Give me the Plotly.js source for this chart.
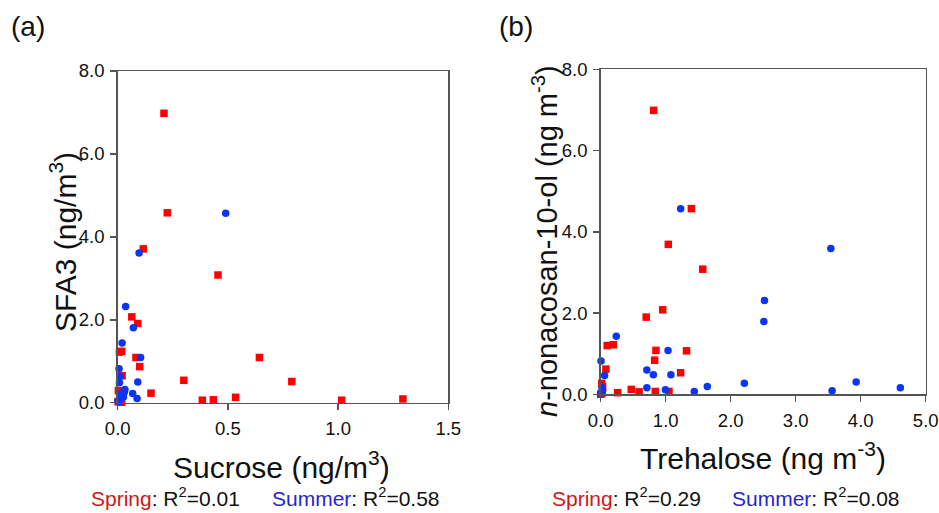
<!DOCTYPE html>
<html>
<head>
<meta charset="utf-8">
<script src="https://cdn.plot.ly/plotly-3.0.1.min.js"></script>
<style>html,body{margin:0;padding:0;background:#fff;}#chart{width:939px;height:513px;}</style>
</head>
<body>
<div id="chart"></div>
<script>
// Panel (a): Sucrose vs SFA3
const sucroseSpring = [0.21, 0.225, 0.116, 0.455, 0.064, 0.091, 0.008, 0.018, 0.083, 0.10, 0.643, 0.02, 0.30, 0.79, 0.151, 0.384, 0.434, 0.535, 1.016, 1.294, 0.003, 0.018, 0.002];
const sfa3Spring    = [6.98, 4.58, 3.71, 3.08, 2.07, 1.91, 1.22, 1.24, 1.09, 0.87, 1.09, 0.65, 0.54, 0.51, 0.23, 0.06, 0.07, 0.13, 0.06, 0.09, 0.29, 0.01, 0.02];
const sucroseSummer = [0.49, 0.097, 0.036, 0.071, 0.02, 0.104, 0.006, 0.011, 0.008, 0.091, 0.033, 0.068, 0.088, 0.018, 0.026, 0.0, 0.01, 0.005, 0.03];
const sfa3Summer    = [4.57, 3.61, 2.32, 1.81, 1.44, 1.09, 0.82, 0.63, 0.48, 0.50, 0.32, 0.22, 0.10, 0.23, 0.14, 0.05, 0.10, 0.02, 0.25];

// Panel (b): Trehalose vs n-nonacosan-10-ol
const trehaloseSpring   = [0.815, 1.395, 1.04, 1.57, 0.954, 0.70, 0.10, 0.195, 0.85, 1.32, 0.83, 0.08, 1.23, 0.015, 0.03, 0.26, 0.47, 0.59, 0.84, 1.05, 0.0, 0.02];
const nonacosanolSpring = [6.99, 4.57, 3.69, 3.08, 2.08, 1.90, 1.20, 1.22, 1.08, 1.07, 0.84, 0.62, 0.53, 0.27, 0.19, 0.04, 0.12, 0.06, 0.07, 0.07, 0.0, 0.02];
const trehaloseSummer   = [1.23, 3.54, 2.52, 2.51, 0.24, 1.036, 0.005, 0.71, 0.81, 0.06, 1.08, 2.21, 3.93, 4.61, 1.64, 0.71, 0.995, 1.44, 3.56, 0.02, 0.03, 0.0, 0.01];
const nonacosanolSummer = [4.57, 3.59, 2.31, 1.79, 1.43, 1.08, 0.82, 0.60, 0.48, 0.46, 0.48, 0.27, 0.30, 0.16, 0.19, 0.16, 0.11, 0.07, 0.09, 0.17, 0.09, 0.02, 0.05];

const yTicks = [0, 2, 4, 6, 8];
const xTicksA = [0, 0.5, 1.0, 1.5];
const xTicksB = [0, 1, 2, 3, 4, 5];
const r2Labels = {a: ["0.01", "0.58"], b: ["0.29", "0.08"]};

const RED = "#ff0000", BLUE = "#0a35f5";
const FONT = "Liberation Sans, Arial, Helvetica, sans-serif";
const W = 939, H = 513;
const px = v => v / W, py = v => 1 - v / H;

function sq(x, y, xa, ya, name) {
  return {x: x, y: y, xaxis: xa, yaxis: ya, name: name, type: "scatter", mode: "markers", cliponaxis: false,
    marker: {symbol: "square", size: 7.5, color: RED}, showlegend: false};
}
function ci(x, y, xa, ya, name) {
  return {x: x, y: y, xaxis: xa, yaxis: ya, name: name, type: "scatter", mode: "markers", cliponaxis: false,
    marker: {symbol: "circle", size: 7.5, color: BLUE}, showlegend: false};
}

const data = [
  sq(sucroseSpring, sfa3Spring, "x", "y", "Spring"),
  ci(sucroseSummer, sfa3Summer, "x", "y", "Summer"),
  sq(trehaloseSpring, nonacosanolSpring, "x2", "y2", "Spring"),
  ci(trehaloseSummer, nonacosanolSummer, "x2", "y2", "Summer")
];

const axisCommon = {
  showline: true, linecolor: "#555", linewidth: 1.5, mirror: true,
  ticks: "outside", ticklen: 6, tickwidth: 1.5, tickcolor: "#555",
  showgrid: false, zeroline: false, tickformat: ".1f", ticklabeloverflow: "allow",
  tickfont: {family: FONT, size: 18.5, color: "#111"}, fixedrange: true
};

const layout = {
  width: W, height: H,
  margin: {l: 0, r: 0, t: 0, b: 0},
  paper_bgcolor: "#fff", plot_bgcolor: "#fff",
  font: {family: FONT, color: "#111"},
  showlegend: false,
  xaxis: Object.assign({}, axisCommon, {domain: [px(117.7), px(448.3)], range: [0, 1.5], tickvals: xTicksA, anchor: "y", ticklabelstandoff: 3}),
  yaxis: Object.assign({}, axisCommon, {domain: [1 - 402.7 / H, 1 - 71 / H], range: [0, 8], tickvals: yTicks, anchor: "x", ticklabelstandoff: 2}),
  xaxis2: Object.assign({}, axisCommon, {domain: [px(600.7), px(925.7)], range: [0, 5], tickvals: xTicksB, anchor: "y2", ticklabelstandoff: 3}),
  yaxis2: Object.assign({}, axisCommon, {domain: [1 - 394.3 / H, 1 - 69.3 / H], range: [0, 8], tickvals: yTicks, anchor: "x2", ticklabelstandoff: 2}),
  annotations: [
    {text: "(a)", x: px(28), y: py(27), font: {size: 28}},
    {text: "(b)", x: px(516), y: py(27), font: {size: 28}},
    {text: "Sucrose (ng/m<sup>3</sup>)", x: px(281), y: py(465), font: {size: 30}},
    {text: "SFA3 (ng/m<sup>3</sup>)", x: px(63), y: py(242), textangle: -90, font: {size: 30}},
    {text: "Trehalose (ng m<sup>-3</sup>)", x: px(763), y: py(456), font: {size: 30}},
    {text: "<i>n</i>-nonacosan-10-ol (ng m<sup>-3</sup>)", x: px(545), y: py(241), textangle: -90, font: {size: 29}},
    {text: "<span style='color:#d41515'>Spring</span>: R<sup>2</sup>=" + r2Labels.a[0], x: px(89), y: py(497), xanchor: "left", font: {size: 21}},
    {text: "<span style='color:#2626cc'>Summer</span>: R<sup>2</sup>=" + r2Labels.a[1], x: px(270), y: py(497), xanchor: "left", font: {size: 21}},
    {text: "<span style='color:#d41515'>Spring</span>: R<sup>2</sup>=" + r2Labels.b[0], x: px(550), y: py(497), xanchor: "left", font: {size: 21}},
    {text: "<span style='color:#2626cc'>Summer</span>: R<sup>2</sup>=" + r2Labels.b[1], x: px(730), y: py(497), xanchor: "left", font: {size: 21}}
  ].map(a => Object.assign({xref: "paper", yref: "paper", showarrow: false, xanchor: "center", yanchor: "middle"}, a,
        {font: Object.assign({family: FONT, color: "#111"}, a.font)}))
};

Plotly.newPlot("chart", data, layout, {displayModeBar: false, staticPlot: true});
</script>
</body>
</html>
